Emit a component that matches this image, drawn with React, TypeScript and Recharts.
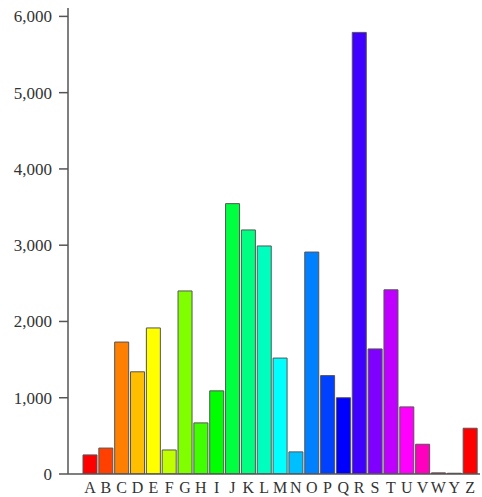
import { BarChart, Bar, XAxis, YAxis, Cell } from 'recharts'

// letters along the bottom (no X in the source)
const categories = ['A', 'B', 'C', 'D', 'E', 'F', 'G', 'H', 'I', 'J', 'K', 'L', 'M', 'N', 'O', 'P', 'Q', 'R', 'S', 'T', 'U', 'V', 'W', 'Y', 'Z']
const values = [250, 340, 1730, 1340, 1915, 315, 2400, 670, 1090, 3545, 3200, 2990, 1520, 290, 2910, 1290, 1000, 5790, 1640, 2415, 880, 390, 15, 10, 600]
const yTicks = [0, 1000, 2000, 3000, 4000, 5000, 6000]

const data = categories.map((name, i) => ({ name, value: values[i] }))

const FONT = 'Times New Roman'
const AXIS = '#555'

function XTick({ x, y, payload }: any) {
  return (
    <text x={x} y={y + 19} textAnchor="middle" style={{ fontFamily: FONT }} fontSize={16} fill="#333">
      {payload.value}
    </text>
  )
}

function YTick({ x, y, payload }: any) {
  return (
    <text x={x} y={y + 6} textAnchor="end" style={{ fontFamily: FONT }} fontSize={17} fill="#333">
      {Number(payload.value).toLocaleString('en-US')}
    </text>
  )
}

export default function App() {
  return (
    <div style={{ position: 'absolute', left: 0, top: 0, background: '#fff' }}>
      <BarChart
        width={482}
        height={497}
        data={data}
        margin={{ top: 8, right: 2, left: 0, bottom: 0 }}
        barCategoryGap={1}
      >
        <XAxis
          dataKey="name"
          interval={0}
          height={23}
          padding={{ left: 14, right: 2 }}
          tickLine={false}
          tickSize={0}
          tickMargin={0}
          stroke={AXIS}
          strokeWidth={1.5}
          tick={<XTick />}
        />
        <YAxis
          width={68}
          domain={[0, 6110]}
          ticks={yTicks}
          allowDataOverflow
          tickSize={9}
          tickMargin={7}
          stroke={AXIS}
          strokeWidth={1.5}
          tick={<YTick />}
        />
        <Bar dataKey="value" stroke="#555" strokeWidth={1} isAnimationActive={false}>
          {data.map((_, i) => (
            <Cell key={i} fill={`hsl(${i * 15}, 100%, 50%)`} />
          ))}
        </Bar>
      </BarChart>
    </div>
  )
}
